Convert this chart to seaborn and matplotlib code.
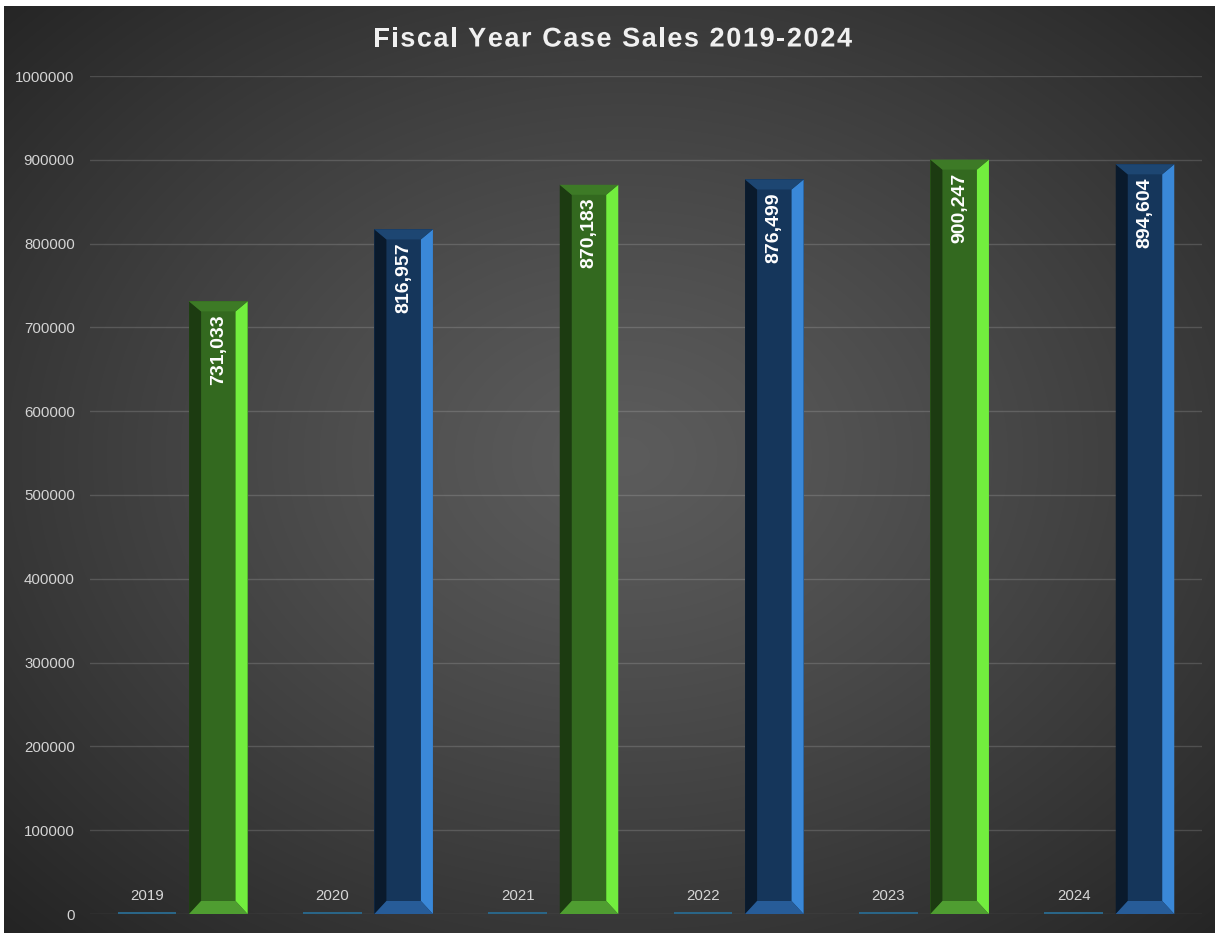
import numpy as np
import pandas as pd
import seaborn as sns
import matplotlib.pyplot as plt
import matplotlib.patheffects as pe
from matplotlib.patches import Polygon

# chart data
years = ["2019", "2020", "2021", "2022", "2023", "2024"]
year_values = [2019, 2020, 2021, 2022, 2023, 2024]
case_sales = [731033, 816957, 870183, 876499, 900247, 894604]
y_ticks = [0, 100000, 200000, 300000, 400000, 500000, 600000, 700000, 800000, 900000, 1000000]
title = "Fiscal Year Case Sales 2019-2024"

# bevel colours: face, left, right, top, bottom
green = ["#33691f", "#1c3b11", "#72ee3e", "#3d7a26", "#4f9d31"]
blue = ["#15365b", "#0a1a2c", "#3a88d8", "#1d4672", "#275c98"]
bar_styles = [green, blue, green, blue, green, blue]

df = pd.DataFrame({
    "Year": years * 2,
    "Series": ["Year"] * len(years) + ["Sales"] * len(years),
    "Value": year_values + case_sales,
})

W, H = 1215, 933
fig = plt.figure(figsize=(W / 100, H / 100), dpi=100, facecolor="white")

# radial background
bg = fig.add_axes([4 / W, 0, 1 - 4 / W, (H - 6) / H])
bw, bh = W - 4, H - 6
xx, yy = np.meshgrid(np.arange(bw), np.arange(bh))
d = np.sqrt(((xx - 620) / 860.0) ** 2 + ((yy - 450) / 660.0) ** 2)
v = 0.36 - 0.215 * np.clip(d, 0, 1.1) ** 1.2
bg.imshow(np.dstack([v, v, v]), aspect="auto", interpolation="bilinear")
bg.set_axis_off()

ax = fig.add_axes([90 / W, 19 / H, 1112 / W, 838 / H])
ax.set_facecolor("none")

sns.barplot(data=df, x="Year", y="Value", hue="Series", hue_order=["Year", "Sales"],
            palette=["#2a6587", "#33691f"], saturation=1, width=0.77, gap=0.18,
            legend=False, ax=ax, zorder=3)

ax.set_xlim(-0.5, len(years) - 0.5)
ax.set_ylim(0, 1000000)
ax.set_yticks(y_ticks)
ax.set_yticklabels([str(t) for t in y_ticks], fontfamily="Liberation Sans")
ax.set_xticklabels([])
ax.tick_params(axis="y", length=0, pad=11, colors="#d4d4d4", labelsize=10.8)
ax.tick_params(axis="x", length=0)
ax.set_xlabel("")
ax.set_ylabel("")
for s in ax.spines.values():
    s.set_visible(False)
ax.yaxis.grid(True, color="white", alpha=0.15, lw=1)
ax.xaxis.grid(False)
ax.set_axisbelow(True)

# pixel -> data scale
pos = ax.get_position()
px_x = (len(years)) / (pos.width * W)
px_y = 1000000 / (pos.height * H)
side, top_b, bot_b = 12 * px_x, 10 * px_y, 13 * px_y

year_bars, sales_bars = ax.containers[0], ax.containers[1]

ax.bar_label(year_bars, labels=years, padding=7, color="#d6d6d6",
             fontsize=10.8, fontfamily="Liberation Sans")

for patch, style, val in zip(sales_bars, bar_styles, case_sales):
    x0 = patch.get_x()
    x1 = x0 + patch.get_width()
    y0 = 0
    y1 = patch.get_height()
    patch.set_facecolor(style[0])
    patch.set_edgecolor("none")
    polys = [
        ([(x0, y0), (x0 + side, y0 + bot_b), (x0 + side, y1 - top_b), (x0, y1)], style[1]),
        ([(x1, y0), (x1 - side, y0 + bot_b), (x1 - side, y1 - top_b), (x1, y1)], style[2]),
        ([(x0, y1), (x1, y1), (x1 - side, y1 - top_b), (x0 + side, y1 - top_b)], style[3]),
        ([(x0, y0), (x1, y0), (x1 - side, y0 + bot_b), (x0 + side, y0 + bot_b)], style[4]),
    ]
    for pts, c in polys:
        ax.add_patch(Polygon(pts, closed=True, facecolor=c, edgecolor="none", zorder=4))
    ax.text((x0 + x1) / 2, y1 - 13 * px_y, f"{val:,}", rotation=90, ha="center", va="top",
            color="white", fontsize=14, fontweight="bold", fontfamily="Liberation Sans", zorder=5)

# letter-spaced title
renderer = fig.canvas.get_renderer()
tkw = dict(fontsize=19.5, fontweight="bold", fontfamily="Liberation Sans")
probe = fig.text(0, 0, "xx", **tkw)
base_w = probe.get_window_extent(renderer).width
probe.remove()
widths = []
for ch in title:
    t = fig.text(0, 0, "x" + ch + "x", **tkw)
    widths.append(t.get_window_extent(renderer).width - base_w)
    t.remove()
target = 479
spacing = (target - sum(widths)) / (len(title) - 1)
x = 612.5 - target / 2
shadow = [pe.SimpleLineShadow(offset=(1, -1.5), shadow_color="black", alpha=0.4), pe.Normal()]
for ch, w in zip(title, widths):
    if ch != " ":
        fig.text(x / W, 1 - 46.5 / H, ch, ha="left", va="baseline", color="#f0f0f0",
                 path_effects=shadow, **tkw)
    x += w + spacing

fig.savefig("out.png", dpi=100)
